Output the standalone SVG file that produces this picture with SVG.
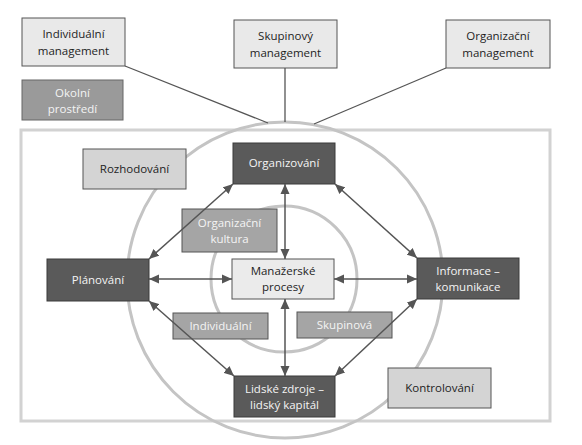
<svg xmlns="http://www.w3.org/2000/svg" width="582" height="445" viewBox="0 0 582 445">
<defs>
<marker id="ah" viewBox="0 0 10 10" refX="10" refY="5" markerWidth="10" markerHeight="10" markerUnits="userSpaceOnUse" orient="auto-start-reverse">
<path d="M0,0.5 L10,5 L0,9.5 Z" fill="#555"/>
</marker>
</defs>
<style>
text{font-family:"Open Sans","DejaVu Sans",sans-serif;font-size:11.5px;text-anchor:middle}
.top rect{fill:#e9e9e9;stroke:#555;stroke-width:1}
.lt rect{fill:#d4d4d4;stroke:#555;stroke-width:1}
.pale rect{fill:#ebebeb;stroke:#555;stroke-width:1}
.dk rect{fill:#5a5a5a;stroke:#3a3a3a;stroke-width:1}
.md rect{fill:#a5a5a5;stroke:#555;stroke-width:1}
.ok rect{fill:#9a9a9a;stroke:#666;stroke-width:1}
.dk text,.md text,.ok text{fill:#f4f4f4}
.top text,.lt text,.pale text{fill:#1e1e1e}
.ring{fill:none;stroke:#c4c4c4;stroke-width:3}
.lnk line{stroke:#555;stroke-width:1.3}
.arr line{stroke:#555;stroke-width:1.5;marker-start:url(#ah);marker-end:url(#ah)}
</style>
<rect x="21" y="130" width="529" height="291" fill="none" stroke="#d2d2d2" stroke-width="3"/>
<circle class="ring" cx="285" cy="280" r="158"/>
<circle class="ring" cx="284" cy="279" r="73"/>
<g id="links" class="lnk">
<line x1="125" y1="66" x2="268" y2="123"/>
<line x1="285" y1="68" x2="285" y2="122"/>
<line x1="446" y1="68" x2="314" y2="124"/>
</g>
<g id="n-ind-mgmt" class="top"><rect x="22" y="18" width="103" height="48"/><text x="73.5" y="38">Individuální</text><text x="73.5" y="55">management</text></g>
<g id="n-skup-mgmt" class="top"><rect x="234" y="20" width="103" height="48"/><text x="285.5" y="40">Skupinový</text><text x="285.5" y="57">management</text></g>
<g id="n-org-mgmt" class="top"><rect x="446" y="20" width="104" height="48"/><text x="498" y="40">Organizační</text><text x="498" y="57">management</text></g>
<g id="n-okolni" class="ok"><rect x="22" y="80" width="101" height="40"/><text x="72.5" y="97">Okolní</text><text x="72.5" y="113">prostředí</text></g>
<g id="n-rozhodovani" class="lt"><rect x="83" y="149" width="103" height="40"/><text x="134.5" y="173">Rozhodování</text></g>
<g id="n-organizovani" class="dk"><rect x="233" y="143" width="102" height="41"/><text x="284" y="167">Organizování</text></g>
<g id="n-kultura" class="md"><rect x="182" y="209" width="95" height="43"/><text x="229.5" y="227">Organizační</text><text x="229.5" y="243">kultura</text></g>
<g id="n-planovani" class="dk"><rect x="47" y="259" width="102" height="42"/><text x="98" y="284">Plánování</text></g>
<g id="n-procesy" class="pale"><rect x="232" y="259" width="102" height="40"/><text x="283" y="275">Manažerské</text><text x="283" y="291">procesy</text></g>
<g id="n-informace" class="dk"><rect x="417" y="258" width="102" height="41"/><text x="468" y="275">Informace –</text><text x="468" y="291">komunikace</text></g>
<g id="n-individualni" class="md"><rect x="173" y="313" width="95" height="26"/><text x="220.5" y="330">Individuální</text></g>
<g id="n-skupinova" class="md"><rect x="297" y="312" width="95" height="26"/><text x="344.5" y="329">Skupinová</text></g>
<g id="n-lidske" class="dk"><rect x="234" y="376" width="101" height="41"/><text x="284.5" y="393">Lidské zdroje –</text><text x="284.5" y="409">lidský kapitál</text></g>
<g id="n-kontrolovani" class="lt"><rect x="388" y="368" width="103" height="40"/><text x="439.5" y="392">Kontrolování</text></g>
<g id="connectors" class="arr">
<line x1="285" y1="184" x2="285" y2="259"/>
<line x1="285" y1="299" x2="285" y2="376"/>
<line x1="149" y1="279" x2="232" y2="279"/>
<line x1="334" y1="279" x2="417" y2="279"/>
<line x1="149" y1="259" x2="233" y2="184"/>
<line x1="335" y1="184" x2="417" y2="258"/>
<line x1="149" y1="301" x2="234" y2="376"/>
<line x1="417" y1="299" x2="335" y2="376"/>
</g>
</svg>
